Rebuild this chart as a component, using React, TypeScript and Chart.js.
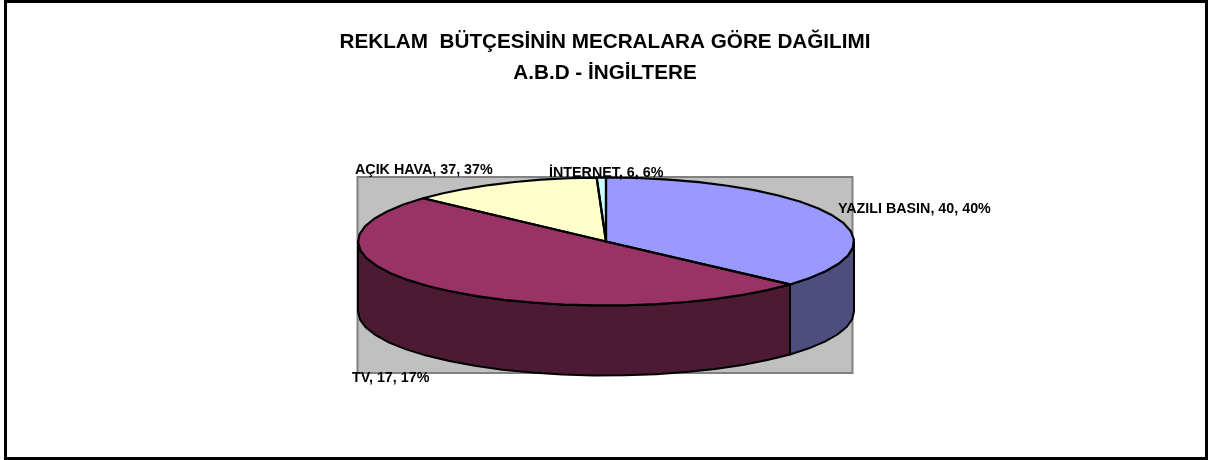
import React, { useEffect, useRef } from "react";
import { Chart, registerables } from "chart.js";

Chart.register(...registerables);

const categories = ["YAZILI BASIN", "TV", "AÇIK HAVA", "İNTERNET"];
const sliceValues = [36.7, 50.1, 12.6, 0.6];
const printedValues = [40, 17, 37, 6];
const faceColors = ["#9999FF", "#993366", "#FFFFCC", "#CCFFFF"];
const wallColors = ["#4D4D80", "#4D1A33", "#808066", "#668080"];
const labelAnchors = [
  [838, 209],
  [352, 378],
  [355, 170],
  [549, 173],
];
const titleLines = ["REKLAM  BÜTÇESİNİN MECRALARA GÖRE DAĞILIMI", "A.B.D - İNGİLTERE"];

const FONT = '"Liberation Sans", Arial, sans-serif';
const PIE = { cx: 606, cy: 241.5, rx: 248, ry: 64, depth: 70 };
const PLOT = { x: 357.5, y: 177, w: 495, h: 196 };
const STEP = Math.PI / 24;

function rimPoints(a: number, b: number, dy: number) {
  const pts: [number, number][] = [];
  const n = Math.max(1, Math.ceil((b - a) / STEP));
  for (let i = 0; i <= n; i++) {
    const t = a + ((b - a) * i) / n;
    pts.push([PIE.cx + PIE.rx * Math.cos(t), PIE.cy + dy + PIE.ry * Math.sin(t)]);
  }
  return pts;
}

const piePlugin = {
  id: "flatPie",
  beforeDraw(chart: any) {
    const { ctx, width, height } = chart;
    ctx.save();
    ctx.fillStyle = "#FFFFFF";
    ctx.fillRect(0, 0, width, height);
    ctx.strokeStyle = "#000000";
    ctx.lineWidth = 3;
    ctx.strokeRect(5.5, 1.5, 1201, 457);
    ctx.restore();
  },
  beforeDatasetsDraw(chart: any) {
    const { ctx } = chart;
    const arcs = chart.getDatasetMeta(0).data;
    ctx.save();
    ctx.fillStyle = "#C0C0C0";
    ctx.strokeStyle = "#808080";
    ctx.lineWidth = 2;
    ctx.fillRect(PLOT.x, PLOT.y, PLOT.w, PLOT.h);
    ctx.strokeRect(PLOT.x, PLOT.y, PLOT.w, PLOT.h);
    ctx.lineJoin = "round";
    ctx.strokeStyle = "#000000";
    arcs.forEach((arc: any, i: number) => {
      const { startAngle, endAngle } = arc.getProps(["startAngle", "endAngle"], true);
      const a = Math.max(startAngle, 0);
      const b = Math.min(endAngle, Math.PI);
      if (b <= a) return;
      const top = rimPoints(a, b, 0);
      const bottom = rimPoints(a, b, PIE.depth).reverse();
      ctx.beginPath();
      [...top, ...bottom].forEach(([x, y], k) => (k ? ctx.lineTo(x, y) : ctx.moveTo(x, y)));
      ctx.closePath();
      ctx.fillStyle = wallColors[i];
      ctx.fill();
      ctx.stroke();
    });
    ctx.restore();
  },
  beforeDatasetDraw(chart: any) {
    const { ctx } = chart;
    const arc = chart.getDatasetMeta(0).data[0];
    const { x, y, outerRadius } = arc.getProps(["x", "y", "outerRadius"], true);
    ctx.save();
    ctx.translate(PIE.cx, PIE.cy);
    ctx.scale(PIE.rx / outerRadius, PIE.ry / outerRadius);
    ctx.translate(-x, -y);
  },
  afterDatasetDraw(chart: any) {
    const { ctx } = chart;
    ctx.restore();
    const arcs = chart.getDatasetMeta(0).data;
    ctx.save();
    ctx.strokeStyle = "#000000";
    ctx.lineWidth = 2.2;
    ctx.lineJoin = "round";
    arcs.forEach((arc: any) => {
      const { startAngle, endAngle } = arc.getProps(["startAngle", "endAngle"], true);
      ctx.beginPath();
      ctx.moveTo(PIE.cx, PIE.cy);
      rimPoints(startAngle, endAngle, 0).forEach(([x, y]) => ctx.lineTo(x, y));
      ctx.closePath();
      ctx.stroke();
    });
    ctx.fillStyle = "#000000";
    ctx.font = `bold 14.3px ${FONT}`;
    ctx.textBaseline = "middle";
    ctx.textAlign = "left";
    categories.forEach((name, i) => {
      const v = printedValues[i];
      ctx.fillText(`${name}, ${v}, ${v}%`, labelAnchors[i][0], labelAnchors[i][1]);
    });
    ctx.restore();
  },
};

export default function App() {
  const ref = useRef<HTMLCanvasElement>(null);
  useEffect(() => {
    const chart = new Chart(ref.current as HTMLCanvasElement, {
      type: "pie",
      data: {
        labels: categories,
        datasets: [
          {
            data: sliceValues,
            backgroundColor: faceColors,
            borderWidth: 0,
            hoverOffset: 0,
          },
        ],
      },
      options: {
        animation: false,
        responsive: false,
        events: [],
        plugins: {
          legend: { display: false },
          tooltip: { enabled: false },
          title: {
            display: true,
            text: titleLines,
            color: "#000000",
            font: { family: FONT, size: 20.7, weight: "bold", lineHeight: 1.5 },
            padding: { top: 27, bottom: 10 },
          },
        },
      } as any,
      plugins: [piePlugin],
    });
    return () => chart.destroy();
  }, []);
  return (
    <div style={{ position: "fixed", left: 0, top: 0, width: 1210, height: 460 }}>
      <canvas ref={ref} width={1210} height={460} style={{ display: "block" }} />
    </div>
  );
}
